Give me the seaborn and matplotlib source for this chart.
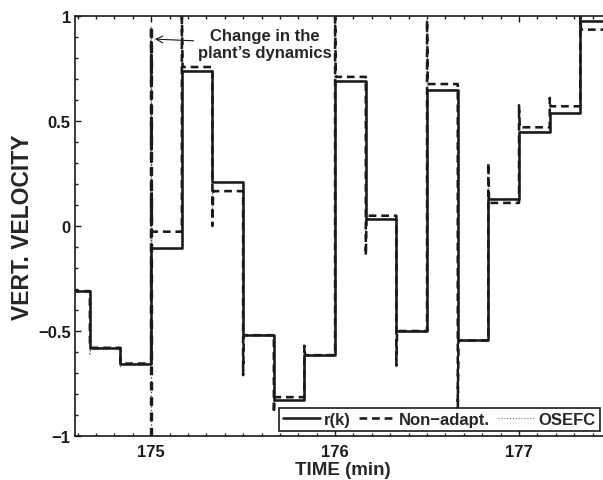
import numpy as np
import pandas as pd
import matplotlib
matplotlib.use("Agg")
import matplotlib.pyplot as plt
from matplotlib.ticker import MultipleLocator, FixedLocator
from matplotlib.lines import Line2D
import seaborn as sns

# ---------------- data ----------------
# boundaries of the piecewise-constant reference (minutes)
step_times = [174.500, 174.667, 174.833, 175.000, 175.167, 175.333, 175.500,
              175.667, 175.833, 176.000, 176.167, 176.333, 176.500, 176.667,
              176.833, 177.000, 177.167, 177.333, 177.500]

# r(k): reference set-point levels per interval
ref_levels = [-0.31, -0.58, -0.655, -0.105, 0.74, 0.21, -0.52, -0.83, -0.615,
              0.69, 0.033, -0.50, 0.65, -0.545, 0.129, 0.45, 0.538, 0.978]

# Non-adaptive controller: settled level and transient peak in each interval
nonadapt_levels = [-0.31, -0.58, -0.655, -0.027, 0.757, 0.166, -0.52, -0.815,
                   -0.615, 0.71, 0.049, -0.50, 0.676, -0.545, 0.11, 0.47,
                   0.57, 0.935]
nonadapt_peaks = [-0.31, -0.58, -0.655, 0.95, 1.02, 0.00, -0.71, -0.89, -0.57,
                  1.02, -0.14, -0.665, 0.98, -0.89, 0.30, 0.575, 0.61, 1.02]

# OSEFC controller: settled level and transient peak in each interval
osefc_levels = [-0.31, -0.58, -0.655, -0.11, 0.74, 0.21, -0.52, -0.83, -0.615,
                0.69, 0.033, -0.50, 0.65, -0.545, 0.129, 0.45, 0.538, 0.978]
osefc_peaks = [-0.31, -0.615, -0.67, 0.95, 0.80, 0.05, -0.70, -0.87, -0.575,
               1.02, -0.05, -0.665, 0.98, -0.86, 0.18, 0.50, 0.58, 1.02]

# vertical marker of the change in plant dynamics
change_time = 175.0
change_span = [-1.0, 0.95]

x_ticks = [175, 176, 177]
y_ticks = [-1, -0.5, 0, 0.5, 1]
y_ticklabels = ["\u22121", "\u22120.5", "0", "0.5", "1"]
x_limits = (174.586, 177.5)
y_limits = (-1.0, 1.0)


def step_series(levels, peaks=None, settle=0.004):
    t, v = [], []
    for i, lev in enumerate(levels):
        t0, t1 = step_times[i], step_times[i + 1]
        if peaks is not None and peaks[i] != lev:
            t += [t0, t0 + settle]
            v += [peaks[i], lev]
        else:
            t.append(t0)
            v.append(lev)
        t.append(t1)
        v.append(lev)
    return pd.DataFrame({"t": t, "v": v})


df_ref = step_series(ref_levels)
df_na = step_series(nonadapt_levels, nonadapt_peaks)
df_os = step_series(osefc_levels, osefc_peaks)
df_change = pd.DataFrame({"t": [change_time, change_time], "v": change_span})

# ---------------- style ----------------
sns.set_theme(style="ticks")
plt.rcParams["font.family"] = ["Liberation Sans", "DejaVu Sans"]
plt.rcParams["font.weight"] = "bold"
plt.rcParams["axes.labelweight"] = "bold"

fig = plt.figure(figsize=(6.03, 4.81), dpi=100)
ax = fig.add_axes([75 / 603, 44 / 481, 536 / 603, 420 / 481])

common = dict(sort=False, estimator=None, ax=ax, legend=False)
LW = 1.85
DASH = (0, (3.0, 1.9))
DOT = (0, (1, 1.6))

sns.lineplot(data=df_os, x="t", y="v", color="0.45", lw=0.8,
             linestyle=DOT, zorder=2, **common)
sns.lineplot(data=df_change, x="t", y="v", color="0.3", lw=1.0,
             linestyle=DOT, zorder=2, **common)
sns.lineplot(data=df_change, x="t", y="v", color="k", lw=2.4,
             linestyle=(0, (2.6, 2.0)), zorder=3, **common)
sns.lineplot(data=df_na, x="t", y="v", color="k", lw=LW,
             linestyle=DASH, zorder=3, **common)
sns.lineplot(data=df_ref, x="t", y="v", color="k", lw=LW,
             linestyle="-", zorder=4, **common)

ax.set_xlim(*x_limits)
ax.set_ylim(*y_limits)
ax.xaxis.set_major_locator(FixedLocator(x_ticks))
ax.yaxis.set_major_locator(FixedLocator(y_ticks))
ax.set_yticklabels(y_ticklabels)
ax.xaxis.set_minor_locator(MultipleLocator(0.1))
ax.yaxis.set_minor_locator(MultipleLocator(0.1))
ax.tick_params(which="both", direction="in", top=True, right=True,
               colors="k", width=1.0)
ax.tick_params(which="major", length=4.5, labelsize=12)
ax.tick_params(which="minor", length=2.5)
ax.tick_params(axis="x", which="major", pad=6)
ax.tick_params(axis="y", which="major", pad=3)
for lab in ax.get_xticklabels() + ax.get_yticklabels():
    lab.set_fontweight("bold")
for sp in ax.spines.values():
    sp.set_linewidth(1.2)
    sp.set_color("k")

ax.set_xlabel("TIME (min)", fontsize=13.5, fontweight="bold", labelpad=1)
ax.set_ylabel("VERT. VELOCITY", fontsize=16.5, fontweight="bold", labelpad=3)

ax.annotate("Change in the\nplant\u2019s dynamics", xy=(175.02, 0.89),
            xytext=(175.62, 0.867), ha="center", va="center",
            fontsize=12, fontweight="bold", multialignment="center",
            arrowprops=dict(arrowstyle="->", lw=0.8, color="k",
                            shrinkA=1, shrinkB=0))

handles = [
    Line2D([], [], color="k", lw=LW, linestyle="-"),
    Line2D([], [], color="k", lw=LW, linestyle=DASH),
    Line2D([], [], color="0.45", lw=0.8, linestyle=DOT),
]
leg = ax.legend(handles, ["r(k)", "Non\u2212adapt.", "OSEFC"], ncol=3,
                loc="lower right", bbox_to_anchor=(600 / 603, 49 / 481),
                bbox_transform=fig.transFigure, borderaxespad=0,
                prop=dict(size=12, weight="bold"), handlelength=2.2,
                handletextpad=0.25, columnspacing=0.45, borderpad=0.25,
                fancybox=False, framealpha=1, edgecolor="k")
leg.get_frame().set_linewidth(1.2)

fig.savefig("out.png", dpi=100)
